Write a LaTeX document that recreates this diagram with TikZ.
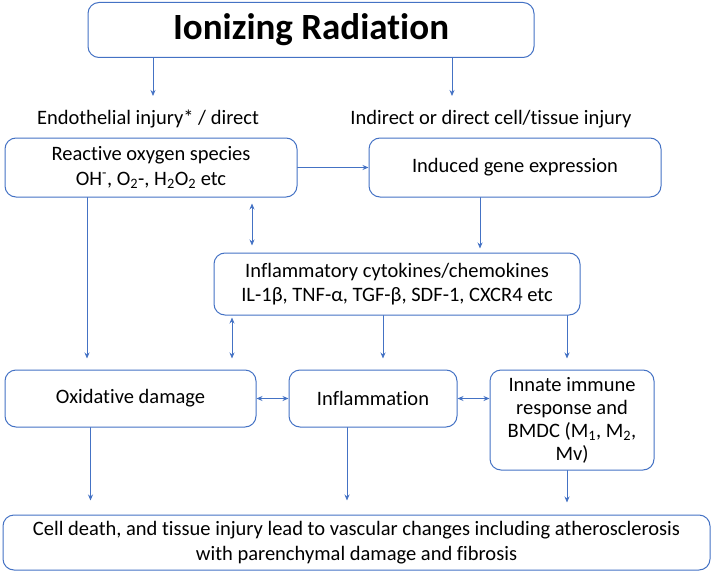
\documentclass[tikz,border=0pt]{standalone}
\usepackage{fontspec}
\setmainfont[Ligatures=NoCommon]{Carlito}
\usetikzlibrary{arrows.meta}
\definecolor{boxblue}{HTML}{4472C4}
\begin{document}
\begin{tikzpicture}[x=1pt,y=-1pt, line join=round, line cap=round,
	font=\fontsize{20.5}{24.5}\selectfont]
	\tikzset{box/.style={draw=boxblue, line width=1pt, rounded corners=11pt, align=center, inner sep=2pt},
		arr/.style={draw=boxblue, line width=.8pt, -{Stealth[length=6pt,width=5pt]}},
		darr/.style={arr, {Stealth[length=6pt,width=5pt]}-{Stealth[length=6pt,width=5pt]}}}
	\useasboundingbox (0,0) rectangle (714,575);
	\node[box, minimum width=446, minimum height=55, font=\fontsize{37}{40}\selectfont\bfseries] (rad) at (311,30) {Ionizing Radiation};
	\node (endo) at (148,119) {Endothelial injury* / direct};
	\node (indir) at (491,119) {Indirect or direct cell/tissue injury};
	\node[box, minimum width=292, minimum height=59] (ros) at (151,167.5)
	{Reactive oxygen species\\ OH\textsuperscript{-}, O\textsubscript{2}-, H\textsubscript{2}O\textsubscript{2} etc};
	\node[box, minimum width=292, minimum height=59] (gene) at (515,167.5) {Induced gene expression};
	\node[box, minimum width=366, minimum height=62] (cyto) at (397,284)
	{Inflammatory cytokines/chemokines\\ IL-1β, TNF-α, TGF-β, SDF-1, CXCR4 etc};
	\node[box, minimum width=251, minimum height=57] (oxid) at (130.5,398.5) {Oxidative damage};
	\node[box, minimum width=168, minimum height=57] (infl) at (373,398.5) {Inflammation};
	\node[box, minimum width=164, minimum height=100] (innate) at (572,420)
	{Innate immune\\[-1.5pt] response and\\[-1.5pt] BMDC (M\textsubscript{1}, M\textsubscript{2},\\[-1.5pt] Mv)};
	\node[box, minimum width=707, minimum height=55] (final) at (356.5,542.5)
	{Cell death, and tissue injury lead to vascular changes including atherosclerosis\\ with parenchymal damage and fibrosis};
	\coordinate (e1) at (153,96);
	\coordinate (i1) at (452,96);
	\draw[arr] (e1 |- rad.south) -- (e1);
	\draw[arr] (i1 |- rad.south) -- (i1);
	\draw[arr] (ros) -- (gene);
	\draw[arr, shorten >=4pt] ([xshift=-35]gene.south) -- ([xshift=-35]gene.south |- cyto.north);
	\draw[darr, shorten <=6pt, shorten >=7pt] ([xshift=101]ros.south) -- ([xshift=101]ros.south |- cyto.north);
	\draw[arr, shorten >=11pt] ([xshift=-64]ros.south) -- ([xshift=-64]ros.south |- oxid.north);
	\draw[darr, shorten <=2pt, shorten >=11pt] ([xshift=-165]cyto.south) -- ([xshift=-165]cyto.south |- oxid.north);
	\foreach \dx/\n in {-14/infl, 170/innate}
	\draw[arr, shorten >=11pt] ([xshift=\dx]cyto.south) -- ([xshift=\dx]cyto.south |- \n.north);
	\draw[darr] (oxid) -- (infl);
	\draw[darr] (infl.east) -- (innate.west |- infl.east);
	\draw[arr, shorten >=14pt] ([xshift=-40]oxid.south) -- ([xshift=-40]oxid.south |- final.north);
	\draw[arr, shorten >=14pt] ([xshift=-26]infl.south) -- ([xshift=-26]infl.south |- final.north);
	\draw[arr, shorten >=12pt] ([xshift=-5]innate.south) -- ([xshift=-5]innate.south |- final.north);
\end{tikzpicture}
\end{document}
